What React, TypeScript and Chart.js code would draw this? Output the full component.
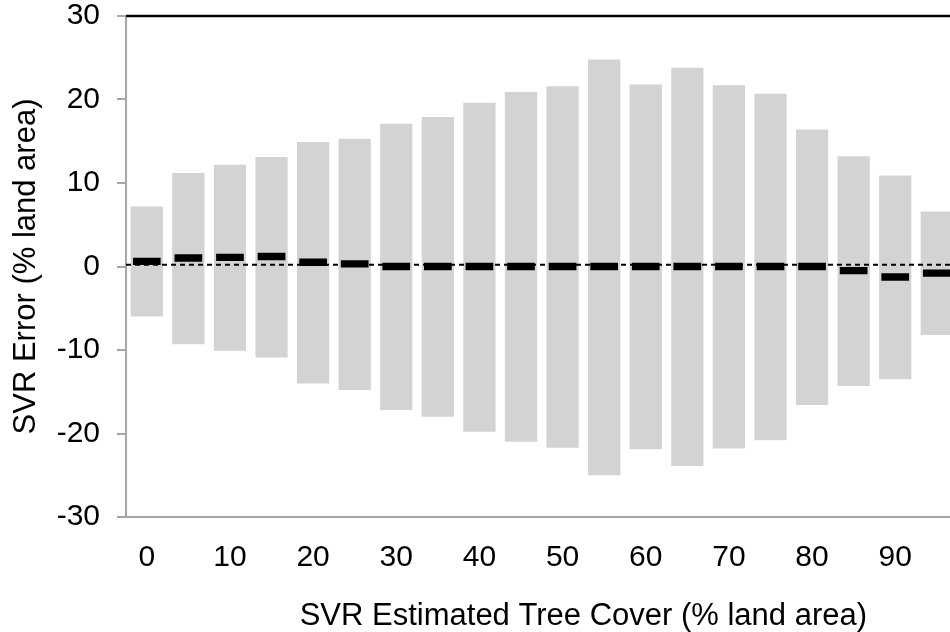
import React, { useEffect, useRef } from "react";
import { Chart, registerables } from "chart.js";

Chart.register(...registerables);

// The reference is cropped on the right: the axis continues past 95 (off-screen).
const categories = [0, 5, 10, 15, 20, 25, 30, 35, 40, 45, 50, 55, 60, 65, 70, 75, 80, 85, 90, 95, 100, 105];
const shownTickLabels = ["0", "10", "20", "30", "40", "50", "60", "70", "80", "90", "100"];
const errorUpper = [7.2, 11.2, 12.2, 13.1, 14.9, 15.3, 17.1, 17.9, 19.6, 20.9, 21.6, 24.8, 21.8, 23.8, 21.7, 20.7, 16.4, 13.2, 10.9, 6.6];
const errorLower = [-6.0, -9.3, -10.1, -10.9, -14.0, -14.8, -17.2, -18.0, -19.8, -21.0, -21.7, -25.0, -21.9, -23.9, -21.8, -20.8, -16.6, -14.3, -13.5, -8.2];
const meanError = [0.62, 1.02, 1.1, 1.2, 0.51, 0.32, 0.0, 0.0, 0.0, 0.0, 0.0, 0.0, 0.0, 0.0, 0.0, 0.0, 0.0, -0.5, -1.26, -0.8];
const referenceLine = 0.22;
const yTicks = [-30, -20, -10, 0, 10, 20, 30];

const MARKER_HALF = 0.44;
const FONT = "'Liberation Sans', Arial, Helvetica, sans-serif";

export default function App() {
  const ref = useRef<HTMLCanvasElement | null>(null);

  useEffect(() => {
    if (!ref.current) return;
    const refLinePlugin = {
      id: "refLine",
      afterDatasetsDraw(chart: any) {
        const { ctx, chartArea, scales } = chart;
        const y = scales.y.getPixelForValue(referenceLine);
        ctx.save();
        ctx.strokeStyle = "#000";
        ctx.lineWidth = 2;
        ctx.setLineDash([5, 4]);
        ctx.beginPath();
        ctx.moveTo(chartArea.left, y);
        ctx.lineTo(chartArea.right, y);
        ctx.stroke();
        ctx.setLineDash([]);
        const yt = scales.y.getPixelForValue(30);
        ctx.lineWidth = 2.5;
        ctx.strokeStyle = "#000";
        ctx.beginPath();
        ctx.moveTo(chartArea.left, yt);
        ctx.lineTo(chartArea.right, yt);
        ctx.stroke();
        ctx.restore();
      },
    };

    const chart = new Chart(ref.current, {
      type: "bar",
      data: {
        labels: categories.map(String),
        datasets: [
          {
            label: "Error range",
            data: categories.map((_, i) =>
              i < errorUpper.length ? [errorLower[i], errorUpper[i]] : null
            ),
            backgroundColor: "#d3d3d3",
            borderWidth: 0,
            barPercentage: 0.776,
            categoryPercentage: 1,
            grouped: false,
            order: 2,
          },
          {
            label: "Mean error",
            data: categories.map((_, i) =>
              i < meanError.length ? [meanError[i] - MARKER_HALF, meanError[i] + MARKER_HALF] : null
            ),
            backgroundColor: "#000",
            borderWidth: 0,
            barPercentage: 0.666,
            categoryPercentage: 1,
            grouped: false,
            order: 1,
          },
        ],
      } as any,
      options: {
        responsive: false,
        animation: false,
        devicePixelRatio: 1,
        layout: { padding: { top: 0, right: 2, left: 0, bottom: 0 } },
        plugins: { legend: { display: false }, tooltip: { enabled: false } },
        scales: {
          x: {
            offset: true,
            grid: { display: false, drawTicks: false },
            border: { display: true, color: "#a6a6a6", width: 2 },
            ticks: {
              autoSkip: false,
              maxRotation: 0,
              minRotation: 0,
              padding: 23,
              color: "#000",
              font: { family: FONT, size: 30 },
              callback: (v: any) => {
                const lab = String(categories[v as number]);
                return shownTickLabels.includes(lab) ? lab : "";
              },
            },
            title: {
              display: true,
              text: "SVR Estimated Tree Cover (% land area)",
              color: "#000",
              font: { family: FONT, size: 31, lineHeight: 1.0 },
              padding: { top: 0, bottom: 0 },
            },
            afterFit: (s: any) => {
              s.height = 115;
            },
          },
          y: {
            min: -30,
            max: 30,
            afterBuildTicks: (s: any) => {
              s.ticks = yTicks.map((v) => ({ value: v }));
            },
            grid: {
              drawOnChartArea: false,
              drawTicks: true,
              tickLength: 9,
              color: "#a6a6a6",
              lineWidth: 2,
            },
            border: { display: true, color: "#a6a6a6", width: 2 },
            ticks: {
              padding: 17,
              color: "#000",
              font: { family: FONT, size: 30 },
            },
            title: {
              display: true,
              text: "SVR Error (% land area)",
              color: "#000",
              font: { family: FONT, size: 31 },
              padding: { top: 8, bottom: 0 },
            },
            afterFit: (s: any) => {
              s.width = 126;
              s.paddingTop = 16;
              s.paddingBottom = 0;
            },
          },
        },
      },
      plugins: [refLinePlugin],
    });
    return () => chart.destroy();
  }, []);

  return (
    <div
      style={{
        position: "fixed",
        left: 0,
        top: 0,
        width: 950,
        height: 632,
        overflow: "hidden",
        background: "#fff",
      }}
    >
      <canvas ref={ref} width={1043} height={632} style={{ display: "block" }} />
    </div>
  );
}
